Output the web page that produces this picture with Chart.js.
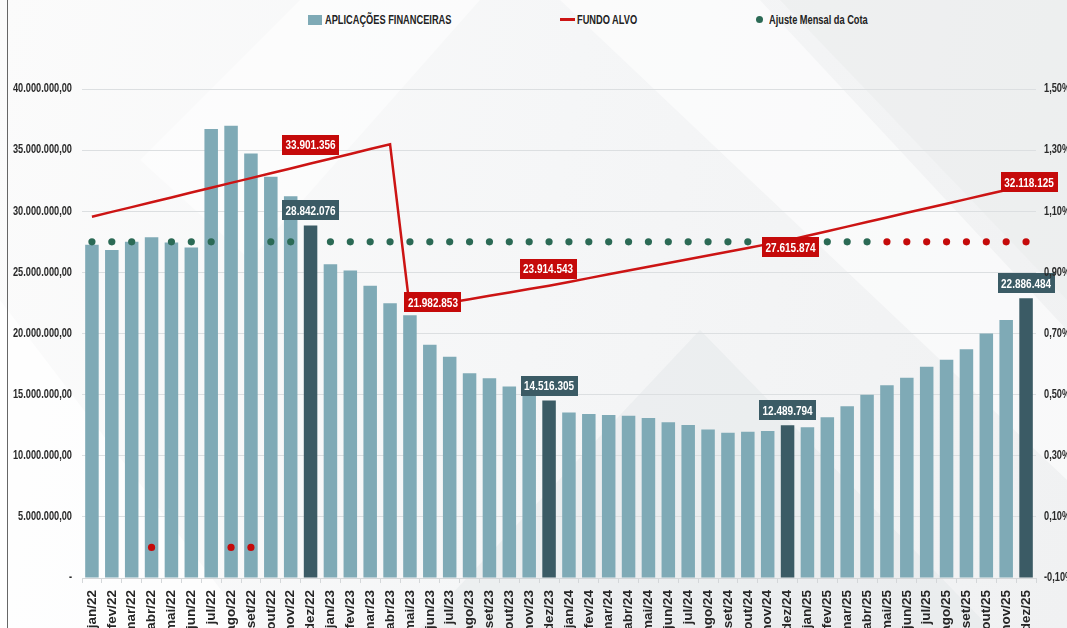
<!DOCTYPE html>
<html>
<head>
<meta charset="utf-8">
<script src="https://cdn.jsdelivr.net/npm/chart.js@4.4.1/dist/chart.umd.min.js"></script>
<style>
  html,body{margin:0;padding:0;width:1067px;height:628px;overflow:hidden;}
  body{position:relative;background:linear-gradient(100deg,#fbfbfb 0%,#f5f6f7 50%,#f0f1f2 100%);font-family:"Liberation Sans",Arial,sans-serif;}
  .shape{position:absolute;left:0;top:0;width:1067px;height:628px;pointer-events:none;}
  #wrap{position:absolute;left:0;top:0;width:1067px;height:700px;}
  .lg{position:absolute;top:12px;font-weight:bold;font-size:12.5px;color:#222;white-space:nowrap;line-height:16px;}
  .lg .t{display:inline-block;transform:scaleX(0.74);transform-origin:left center;}
  #leftline{position:absolute;left:7px;top:0;width:1px;height:628px;background:#666;}
</style>
</head>
<body>
<div class="shape" style="clip-path:polygon(420px 628px,700px 330px,990px 628px);background:rgba(228,231,233,0.5);"></div>
<div class="shape" style="clip-path:polygon(560px 0px,760px 0px,1067px 330px,1067px 480px);background:rgba(255,255,255,0.55);"></div>
<div class="shape" style="clip-path:polygon(780px 0px,1067px 0px,1067px 300px);background:rgba(232,234,236,0.45);"></div>
<div class="shape" style="clip-path:polygon(0px 300px,250px 628px,0px 628px);background:rgba(255,255,255,0.7);"></div>
<div class="shape" style="clip-path:polygon(300px 0px,480px 0px,250px 260px,140px 160px);background:rgba(255,255,255,0.5);"></div>
<div id="leftline"></div>
<div class="lg" style="left:308px;"><span style="display:inline-block;width:14px;height:10px;background:#7faab6;vertical-align:-1px;margin-right:3px;"></span><span class="t">APLICAÇÕES FINANCEIRAS</span></div>
<div class="lg" style="left:560px;"><span style="display:inline-block;width:15px;height:3px;background:#cc1414;vertical-align:3px;margin-right:2px;"></span><span class="t">FUNDO ALVO</span></div>
<div class="lg" style="left:756px;"><span style="display:inline-block;width:7px;height:7px;border-radius:50%;background:#2b6a55;vertical-align:1px;margin-right:6px;"></span><span class="t">Ajuste Mensal da Cota</span></div>
<div id="wrap"><canvas id="c" width="1067" height="700"></canvas></div>
<script>
const categories = [
 'jan/22','fev/22','mar/22','abr/22','mai/22','jun/22','jul/22','ago/22','set/22','out/22','nov/22','dez/22',
 'jan/23','fev/23','mar/23','abr/23','mai/23','jun/23','jul/23','ago/23','set/23','out/23','nov/23','dez/23',
 'jan/24','fev/24','mar/24','abr/24','mai/24','jun/24','jul/24','ago/24','set/24','out/24','nov/24','dez/24',
 'jan/25','fev/25','mar/25','abr/25','mai/25','jun/25','jul/25','ago/25','set/25','out/25','nov/25','dez/25'
];
const aplicacoesFinanceiras = [
 27250000,26840000,27500000,27880000,27440000,27030000,36720000,36990000,34720000,32820000,31220000,28842076,
 25670000,25150000,23900000,22480000,21500000,19070000,18100000,16750000,16340000,15660000,14900000,14516305,
 13530000,13420000,13340000,13280000,13090000,12740000,12520000,12140000,11890000,11970000,12030000,12489794,
 12330000,13150000,14050000,14980000,15770000,16390000,17290000,17860000,18710000,19990000,21110000,22886484
];
const fundoAlvo = [
 29550000,29950000,30340000,30740000,31130000,31530000,31920000,32320000,32710000,33110000,33500000,33901356,
 34300000,34690000,35090000,35480000,21982853,22260000,22530000,22810000,23090000,23360000,23640000,23914543,
 24220000,24530000,24840000,25150000,25460000,25770000,26070000,26380000,26690000,27000000,27310000,27615874,
 27990000,28370000,28740000,29120000,29490000,29870000,30240000,30620000,30990000,31370000,31740000,32118125
];
const ajusteMensalCota = [
 1.00,1.00,1.00,0.00,1.00,1.00,1.00,0.00,0.00,1.00,1.00,null,
 1.00,1.00,1.00,1.00,1.00,1.00,1.00,1.00,1.00,1.00,1.00,1.00,
 1.00,1.00,1.00,1.00,1.00,1.00,1.00,1.00,1.00,1.00,1.00,1.00,
 1.00,1.00,1.00,1.00,1.00,1.00,1.00,1.00,1.00,1.00,1.00,1.00
];
const ajusteEmAlerta = ['abr/22','ago/22','set/22','mai/25','jun/25','jul/25','ago/25','set/25','out/25','nov/25','dez/25'];
const mesesDestaque = ['dez/22','dez/23','dez/24','dez/25'];
const rotulosFundo = ['dez/22','mai/23','dez/23','dez/24','dez/25'];
const leftTicks = [0,5000000,10000000,15000000,20000000,25000000,30000000,35000000,40000000];
const rightTicks = [-0.10,0.10,0.30,0.50,0.70,0.90,1.10,1.30,1.50];

// styles / placement
const C_BAR = '#7faab6', C_BAR_DARK = '#3b5b65', C_LINE = '#cc1414', C_GREEN = '#2b6a55', C_RED = '#c50a0a';
const FONT = '"Liberation Sans",Arial,sans-serif';
const SX = 0.77; // horizontal text condensing
const lineLabelOffsets = {'dez/22':[0,-19],'mai/23':[23,-7],'dez/23':[-1,-17],'dez/24':[3,7],'dez/25':[3,-3]};

function thousands(n){ return String(Math.round(n)).replace(/\B(?=(\d{3})+(?!\d))/g,'.'); }
function leftLabel(v){ return v === 0 ? '-' : thousands(v) + ',00'; }
function rightLabel(v){ return v.toFixed(2).replace('.',',') + '%'; }

function condensedText(ctx, txt, x, y, align){
  ctx.save();
  ctx.translate(x, y);
  ctx.scale(SX, 1);
  ctx.textAlign = align;
  ctx.fillText(txt, 0, 0);
  ctx.restore();
}

const textPlugin = {
  id:'condensedText',
  afterDraw(chart){
    const ctx = chart.ctx;
    const y = chart.scales.y, y1 = chart.scales.y1;
    ctx.save();
    ctx.font = 'bold 12px ' + FONT;
    ctx.fillStyle = '#2a2a2a';
    ctx.textBaseline = 'middle';
    leftTicks.forEach(v => condensedText(ctx, leftLabel(v), chart.chartArea.left - 10, y.getPixelForValue(v), 'right'));
    rightTicks.forEach(v => condensedText(ctx, rightLabel(v), chart.chartArea.right + 8, y1.getPixelForValue(v), 'left'));
    ctx.restore();
  },
  afterDatasetsDraw(chart){
    const ctx = chart.ctx;
    const barMeta = chart.getDatasetMeta(0);
    const lineMeta = chart.getDatasetMeta(1);
    ctx.save();
    ctx.font = 'bold 13px ' + FONT;
    ctx.textBaseline = 'middle';
    const h = 20;
    function box(cx, cy, txt, bg){
      const w = ctx.measureText(txt).width * SX + 7;
      ctx.fillStyle = bg;
      ctx.fillRect(Math.round(cx - w/2), Math.round(cy - h/2), Math.round(w), h);
      ctx.fillStyle = '#ffffff';
      condensedText(ctx, txt, cx, cy + 1, 'center');
    }
    mesesDestaque.forEach(m => {
      const i = categories.indexOf(m);
      const el = barMeta.data[i];
      box(el.x, el.y - 5 - h/2, thousands(aplicacoesFinanceiras[i]), C_BAR_DARK);
    });
    rotulosFundo.forEach(m => {
      const i = categories.indexOf(m);
      const el = lineMeta.data[i];
      const off = lineLabelOffsets[m];
      box(el.x + off[0], el.y + off[1], thousands(fundoAlvo[i]), C_RED);
    });
    ctx.restore();
  }
};

new Chart(document.getElementById('c'), {
  data: {
    labels: categories,
    datasets: [
      {
        type:'bar', label:'APLICAÇÕES FINANCEIRAS', data: aplicacoesFinanceiras, yAxisID:'y',
        backgroundColor: categories.map(m => mesesDestaque.includes(m) ? C_BAR_DARK : C_BAR),
        barPercentage:0.68, categoryPercentage:1.0, order:3
      },
      {
        type:'line', label:'FUNDO ALVO', data: fundoAlvo, yAxisID:'y',
        borderColor: C_LINE, borderWidth:2.5, pointRadius:0, tension:0, fill:false, order:2
      },
      {
        type:'line', label:'Ajuste Mensal da Cota', data: ajusteMensalCota, yAxisID:'y1',
        showLine:false, pointRadius:3.6, pointBorderWidth:0,
        pointBackgroundColor: categories.map(m => ajusteEmAlerta.includes(m) ? C_RED : C_GREEN),
        order:1
      }
    ]
  },
  options: {
    responsive:false, animation:false, devicePixelRatio:1,
    layout:{padding:{top:89,left:0,right:0,bottom:0}},
    plugins:{legend:{display:false}, tooltip:{enabled:false}},
    scales:{
      x:{
        offset:true,
        grid:{display:true, drawOnChartArea:false, drawTicks:true, tickLength:5, color:'#d4d7d9', offset:true},
        border:{display:true, color:'#d4d7d9'},
        ticks:{autoSkip:false, minRotation:90, maxRotation:90, padding:7, color:'#262626', font:{family:FONT, weight:'bold', size:13.5}},
        afterFit(s){ s.height = 122; }
      },
      y:{
        position:'left', min:0, max:40000000,
        afterBuildTicks(s){ s.ticks = leftTicks.map(v => ({value:v})); },
        grid:{color:'#dcdfe1', drawTicks:false, lineWidth:1},
        border:{display:false},
        ticks:{display:false},
        afterFit(s){ s.width = 82; }
      },
      y1:{
        position:'right', min:-0.10, max:1.50,
        afterBuildTicks(s){ s.ticks = rightTicks.map(v => ({value:v})); },
        grid:{display:false, drawTicks:false},
        border:{display:false},
        ticks:{display:false},
        afterFit(s){ s.width = 31; }
      }
    }
  },
  plugins:[textPlugin]
});
</script>
</body>
</html>
